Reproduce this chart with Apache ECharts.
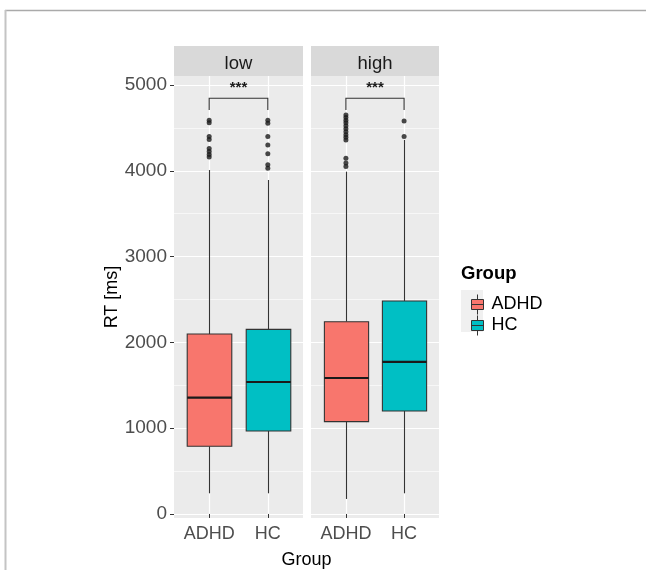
<!DOCTYPE html>
<html><head><meta charset="utf-8">
<script src="https://cdn.jsdelivr.net/npm/echarts@6/dist/echarts.min.js"></script>
<style>html,body{margin:0;padding:0;background:#fff}#chart{width:646px;height:570px}</style>
</head><body><div id="chart"></div>
<script>
// ---------------- data ----------------
const conditions = ['low', 'high'];
const groups = ['ADHD', 'HC'];
const groupColors = ['#F8766D', '#00BFC4'];
const yTicks = [0, 1000, 2000, 3000, 4000, 5000];
const yMinorTicks = [500, 1500, 2500, 3500, 4500];
// [lower whisker, Q1, median, Q3, upper whisker]
const lowADHD = [241, 789, 1356, 2098, 4009];
const lowHC = [241, 967, 1538, 2152, 3893];
const highADHD = [175, 1076, 1585, 2241, 3990];
const highHC = [241, 1200, 1772, 2483, 4360];
const lowADHDOutliers = [4590, 4560, 4400, 4365, 4260, 4225, 4190, 4160];
const lowHCOutliers = [4590, 4555, 4400, 4300, 4200, 4070, 4030];
const highADHDOutliers = [4650, 4620, 4590, 4560, 4525, 4490, 4455, 4420, 4390, 4360, 4145, 4090, 4050];
const highHCOutliers = [4580, 4400];
const sigLabels = ['***', '***'];
const bracketTop = 4845;
const bracketTip = 4709;
const sigTextValue = 4965;

// ---------------- layout ----------------
const FONT = 'Liberation Sans, Arial, sans-serif';
const panelLeft = [174, 311];
const panelWidth = [129, 128];
const PANEL_TOP = 76, PANEL_BOTTOM = 518;
const STRIP_TOP = 46;
const BOX_W = 0.76;

const panels = [
  { boxes: [lowADHD, lowHC], outliers: [lowADHDOutliers, lowHCOutliers] },
  { boxes: [highADHD, highHC], outliers: [highADHDOutliers, highHCOutliers] }
];
const groupPos = groups.map((g, i) => i + 1);

function renderBox(params, api) {
  const x = api.value(0);
  const lo = api.coord([x, api.value(1)]);
  const q1 = api.coord([x, api.value(2)]);
  const md = api.coord([x, api.value(3)]);
  const q3 = api.coord([x, api.value(4)]);
  const hi = api.coord([x, api.value(5)]);
  const w = api.size([BOX_W, 0])[0];
  const cx = Math.round(lo[0]) + 0.5;
  const fill = api.visual('color');
  return { type: 'group', children: [
    { type: 'line', shape: { x1: cx, y1: q3[1], x2: cx, y2: hi[1] }, style: { stroke: '#333', lineWidth: 1.1 } },
    { type: 'line', shape: { x1: cx, y1: q1[1], x2: cx, y2: lo[1] }, style: { stroke: '#333', lineWidth: 1.1 } },
    { type: 'rect', shape: { x: cx - w / 2, y: q3[1], width: w, height: q1[1] - q3[1] }, style: { fill: fill, stroke: '#333', lineWidth: 1.1 } },
    { type: 'line', shape: { x1: cx - w / 2, y1: md[1], x2: cx + w / 2, y2: md[1] }, style: { stroke: '#1a1a1a', lineWidth: 2.2 } }
  ]};
}

function renderBracket(params, api) {
  const a = api.coord([api.value(0), api.value(2)]);
  const b = api.coord([api.value(1), api.value(2)]);
  const aTip = api.coord([api.value(0), api.value(3)]);
  const bTip = api.coord([api.value(1), api.value(3)]);
  const t = api.coord([(api.value(0) + api.value(1)) / 2, api.value(4)]);
  return { type: 'group', children: [
    { type: 'polyline', shape: { points: [aTip, a, b, bTip] }, style: { stroke: '#333', lineWidth: 1.1, fill: null } },
    { type: 'text', x: t[0], y: t[1], style: { text: sigLabels[0], fontSize: 15, fontWeight: 'bold', fontFamily: FONT, fill: '#1a1a1a', align: 'center', verticalAlign: 'middle' } }
  ]};
}

const grid = [], xAxis = [], yAxis = [], series = [];
panels.forEach((p, pi) => {
  grid.push({ left: panelLeft[pi], width: panelWidth[pi], top: PANEL_TOP, bottom: 570 - PANEL_BOTTOM,
    show: true, backgroundColor: '#EBEBEB', borderWidth: 0 });
  xAxis.push({ type: 'value', gridIndex: pi, min: 0.4, max: 2.6,
    axisLine: { show: false },
    axisTick: { show: true, customValues: groupPos, length: 4, lineStyle: { color: '#333', width: 1 } },
    axisLabel: { customValues: groupPos, formatter: v => groups[Math.round(v) - 1], fontSize: 18, color: '#4D4D4D', margin: 7, fontFamily: FONT },
    splitLine: { show: true, lineStyle: { color: '#fff', width: 1.2 } } });
  yAxis.push({ type: 'value', gridIndex: pi, min: -47, max: 5105,
    axisLine: { show: false },
    axisTick: { show: pi === 0, customValues: yTicks, length: 4, lineStyle: { color: '#333', width: 1 } },
    axisLabel: { show: pi === 0, customValues: yTicks, formatter: v => String(v), fontSize: 19, color: '#4D4D4D', margin: 7, fontFamily: FONT },
    splitLine: { show: true, lineStyle: { color: '#fff', width: 1.2 } },
    name: pi === 0 ? 'RT [ms]' : '', nameLocation: 'middle', nameGap: 52,
    nameTextStyle: { fontSize: 18, color: '#000', fontFamily: FONT } });
});
panels.forEach((p, pi) => {
  yAxis.push({ type: 'value', gridIndex: pi, min: -47, max: 5105, position: 'left', offset: 0,
    axisLine: { show: false }, axisTick: { show: false, customValues: yMinorTicks }, axisLabel: { show: false },
    splitLine: { show: true, lineStyle: { color: '#fff', width: 0.6 } } });
});
panels.forEach((p, pi) => {
  groups.forEach((g, gi) => {
    series.push({ type: 'custom', name: g, xAxisIndex: pi, yAxisIndex: pi, z: 3,
      itemStyle: { color: groupColors[gi] }, renderItem: renderBox,
      encode: { x: 0, y: [1, 2, 3, 4, 5] },
      data: [[groupPos[gi]].concat(p.boxes[gi])] });
    series.push({ type: 'scatter', name: g + ' outliers', xAxisIndex: pi, yAxisIndex: pi, z: 4,
      symbolSize: 5, itemStyle: { color: '#1a1a1a' }, silent: true,
      data: p.outliers[gi].map(v => [groupPos[gi], v]) });
  });
  series.push({ type: 'custom', name: 'sig ' + conditions[pi], xAxisIndex: pi, yAxisIndex: pi, z: 4,
    renderItem: renderBracket, encode: { x: [0, 1], y: [2, 3, 4] },
    data: [[groupPos[0], groupPos[1], bracketTop, bracketTip, sigTextValue]] });
});

const legendIcon = 'path://M6,0L6,5 M0,5L12,5L12,15L0,15Z M0,10L12,10 M6,15L6,20';

const graphic = [
  { type: 'line', shape: { x1: 5, y1: 10.5, x2: 646, y2: 10.5 }, style: { stroke: '#AAAAAA', lineWidth: 1.5 } },
  { type: 'line', shape: { x1: 5.5, y1: 10, x2: 5.5, y2: 570 }, style: { stroke: '#C4C4C4', lineWidth: 2 } },
  { type: 'text', x: (panelLeft[0] + panelLeft[1] + panelWidth[1]) / 2, y: 560,
    style: { text: 'Group', fontSize: 18, fontFamily: FONT, fill: '#000', align: 'center', verticalAlign: 'middle' } },
  { type: 'text', x: 461, y: 274,
    style: { text: 'Group', fontSize: 18.5, fontWeight: 'bold', fontFamily: FONT, fill: '#000', align: 'left', verticalAlign: 'middle' } },
  { type: 'rect', shape: { x: 461, y: 290, width: 22, height: 42 }, style: { fill: '#F0F0F0' }, z: -1 }
];
conditions.forEach((c, pi) => {
  graphic.push({ type: 'rect', shape: { x: panelLeft[pi], y: STRIP_TOP, width: panelWidth[pi], height: PANEL_TOP - STRIP_TOP },
    style: { fill: '#D9D9D9' } });
  graphic.push({ type: 'text', x: panelLeft[pi] + panelWidth[pi] / 2, y: (STRIP_TOP + PANEL_TOP) / 2 + 3,
    style: { text: c, fontSize: 18.5, fontFamily: FONT, fill: '#1A1A1A', align: 'center', verticalAlign: 'middle' } });
});

const chart = echarts.init(document.getElementById('chart'), null, { renderer: 'canvas' });
chart.setOption({
  backgroundColor: '#fff',
  animation: false,
  grid, xAxis, yAxis, series, graphic,
  legend: {
    left: 466, top: 289, orient: 'vertical', itemWidth: 12, itemHeight: 20, itemGap: 0,
    selectedMode: false,
    textStyle: { fontSize: 18, color: '#000', fontFamily: FONT, padding: [0, 0, 0, 3] },
    data: groups.map((g, gi) => ({ name: g, icon: legendIcon, itemStyle: { color: groupColors[gi], borderColor: '#333', borderWidth: 1 } }))
  }
});
</script></body></html>
